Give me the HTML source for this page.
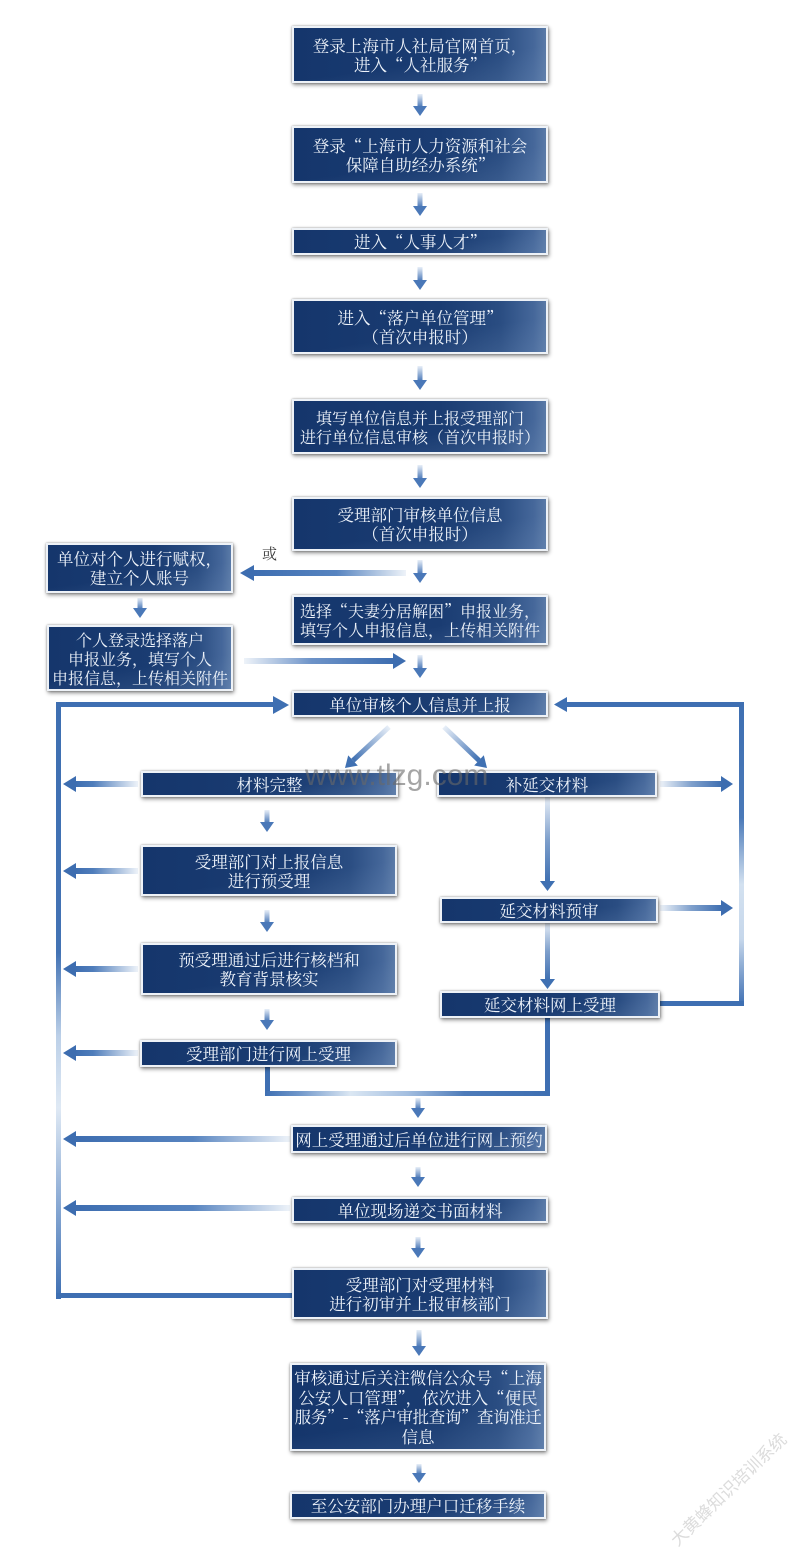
<!DOCTYPE html>
<html><head><meta charset="utf-8">
<style>
html,body{margin:0;padding:0;background:#fff;}
#root{position:relative;width:800px;height:1562px;overflow:hidden;background:#fff;}
svg.lines{position:absolute;left:0;top:0;}
.b{position:absolute;box-sizing:border-box;border:2px solid #eef2f7;
background:linear-gradient(172deg,rgba(255,255,255,0) 60%,rgba(120,150,190,0.22) 100%),linear-gradient(to right,#15366c 0%,#1a3c72 58%,#2a4d82 82%,#45679a 95%,#5a7aa7 100%);
box-shadow:1px 2px 4px rgba(0,0,0,0.45),0 0 2px rgba(0,0,0,0.35);
color:#eef3fa;font-family:"Noto Serif CJK SC","Liberation Serif",serif;font-size:16.5px;line-height:19px;
display:flex;align-items:center;justify-content:center;text-align:center;white-space:nowrap;}
.wm1{position:absolute;left:305px;top:759px;font-family:"Liberation Sans",sans-serif;font-size:30px;line-height:normal;color:rgba(105,105,105,0.6);white-space:nowrap;}
.wm2{position:absolute;left:645px;top:1476px;width:165px;text-align:center;font-family:"Noto Sans CJK SC",sans-serif;font-size:17px;color:#dcdcdc;transform:rotate(-44deg);white-space:nowrap;}
.or{position:absolute;left:262px;top:543px;font-family:"Noto Serif CJK SC",serif;font-size:15px;color:#333;}
</style></head>
<body><div id="root">
<svg class="lines" width="800" height="1562" viewBox="0 0 800 1562">
<defs>
<linearGradient id="gD" x1="0" y1="0" x2="0" y2="1"><stop offset="0" stop-color="#e8eff8"/><stop offset="1" stop-color="#4a78b8"/></linearGradient>
<linearGradient id="gDl" x1="0" y1="0" x2="0" y2="1"><stop offset="0" stop-color="#e8eff8"/><stop offset="0.5" stop-color="#7fa0cc"/><stop offset="1" stop-color="#3f70b2"/></linearGradient>
<linearGradient id="gLs" x1="0" y1="0" x2="1" y2="0"><stop offset="0" stop-color="#3d6db0"/><stop offset="0.3" stop-color="#4f7dbb"/><stop offset="1" stop-color="#eef3f9"/></linearGradient>
<linearGradient id="gLl" x1="0" y1="0" x2="1" y2="0"><stop offset="0" stop-color="#3d6db0"/><stop offset="0.55" stop-color="#5784c0"/><stop offset="1" stop-color="#eef3f9"/></linearGradient>
<linearGradient id="gR" x1="0" y1="0" x2="1" y2="0"><stop offset="0" stop-color="#eef3f9"/><stop offset="0.5" stop-color="#7fa0cc"/><stop offset="1" stop-color="#3d6db0"/></linearGradient>
<linearGradient id="gRl" x1="0" y1="0" x2="1" y2="0"><stop offset="0" stop-color="#eef3f9"/><stop offset="0.45" stop-color="#6d93c8"/><stop offset="1" stop-color="#3d6db0"/></linearGradient>
<linearGradient id="gLV" x1="0" y1="0" x2="0" y2="1"><stop offset="0" stop-color="#3e6fb2"/><stop offset="0.42" stop-color="#4373b4"/><stop offset="0.56" stop-color="#bcd0e8"/><stop offset="0.68" stop-color="#dfe9f4"/><stop offset="0.84" stop-color="#8aaad4"/><stop offset="1" stop-color="#3e6fb2"/></linearGradient>
<linearGradient id="gRV" x1="0" y1="0" x2="0" y2="1"><stop offset="0" stop-color="#3e6fb2"/><stop offset="0.38" stop-color="#4a79b8"/><stop offset="0.6" stop-color="#d3e1f0"/><stop offset="0.78" stop-color="#c6d7eb"/><stop offset="1" stop-color="#3e6fb2"/></linearGradient>
<linearGradient id="gBH" x1="0" y1="0" x2="1" y2="0"><stop offset="0" stop-color="#3e6fb2"/><stop offset="0.12" stop-color="#7097ca"/><stop offset="0.3" stop-color="#dbe7f3"/><stop offset="0.5" stop-color="#a3bee0"/><stop offset="0.7" stop-color="#4d7bb9"/><stop offset="1" stop-color="#3e6fb2"/></linearGradient>
<linearGradient id="gDg1" gradientUnits="userSpaceOnUse" x1="389" y1="727" x2="353" y2="760"><stop offset="0" stop-color="#e8eff8"/><stop offset="1" stop-color="#3f70b2"/></linearGradient>
<linearGradient id="gDg2" gradientUnits="userSpaceOnUse" x1="444" y1="727" x2="479" y2="760"><stop offset="0" stop-color="#e8eff8"/><stop offset="1" stop-color="#3f70b2"/></linearGradient>
</defs>

<g fill="#4a78b8">
<rect x="417.5" y="94" width="5" height="13" fill="url(#gD)"/><polygon points="413,106 427,106 420,116"/>
<rect x="417.5" y="193" width="5" height="14" fill="url(#gD)"/><polygon points="413,206 427,206 420,216"/>
<rect x="417.5" y="267" width="5" height="14" fill="url(#gD)"/><polygon points="413,280 427,280 420,290"/>
<rect x="417.5" y="366" width="5" height="15" fill="url(#gD)"/><polygon points="413,380 427,380 420,390"/>
<rect x="417.5" y="465" width="5" height="14" fill="url(#gD)"/><polygon points="413,478 427,478 420,488"/>
<rect x="417.5" y="560" width="5" height="14" fill="url(#gD)"/><polygon points="413,573 427,573 420,583"/>
<rect x="417.5" y="655" width="5" height="14" fill="url(#gD)"/><polygon points="413,668 427,668 420,678"/>
<rect x="137.5" y="598" width="5" height="11" fill="url(#gD)"/><polygon points="133,608 147,608 140,618"/>
<rect x="264.5" y="810" width="5" height="13" fill="url(#gD)"/><polygon points="260,822 274,822 267,832"/>
<rect x="264.5" y="910" width="5" height="13" fill="url(#gD)"/><polygon points="260,922 274,922 267,932"/>
<rect x="264.5" y="1009" width="5" height="12" fill="url(#gD)"/><polygon points="260,1020 274,1020 267,1030"/>
<rect x="415.5" y="1098" width="5" height="11" fill="url(#gD)"/><polygon points="411,1108 425,1108 418,1118"/>
<rect x="415.5" y="1167" width="5" height="11" fill="url(#gD)"/><polygon points="411,1177 425,1177 418,1187"/>
<rect x="415.5" y="1237" width="5" height="12" fill="url(#gD)"/><polygon points="411,1248 425,1248 418,1258"/>
<rect x="416.5" y="1330" width="5" height="17" fill="url(#gD)"/><polygon points="412,1346 426,1346 419,1356"/>
<rect x="416.5" y="1464" width="5" height="10" fill="url(#gD)"/><polygon points="412,1473 426,1473 419,1483"/>
</g>

<rect x="252" y="570" width="154" height="6" fill="url(#gLl)"/>
<polygon points="240,573 254,565 254,581" fill="#3d6db0"/>
<rect x="244" y="658" width="150" height="6" fill="url(#gRl)"/>
<polygon points="406,661 393,653 393,669" fill="#3d6db0"/>

<rect x="56" y="702" width="5" height="597" fill="url(#gLV)"/>
<rect x="56" y="702" width="219" height="5" fill="#3e6fb2"/>
<polygon points="273,696 273,714 289,705" fill="#3e6fb2"/>
<rect x="56" y="1293" width="237" height="5" fill="#3e6fb2"/>

<rect x="739" y="702" width="5" height="304" fill="url(#gRV)"/>
<rect x="566" y="702" width="178" height="5" fill="#3e6fb2"/>
<polygon points="554,704.5 567,697 567,712" fill="#3e6fb2"/>
<rect x="658" y="1001" width="86" height="5" fill="#3e6fb2"/>

<line x1="389" y1="727" x2="353" y2="760.5" stroke="url(#gDg1)" stroke-width="5"/>
<polygon points="345,768 357.8,765.6 348.2,755.4" fill="#3f70b2"/>
<line x1="444" y1="727" x2="479" y2="760.4" stroke="url(#gDg2)" stroke-width="5"/>
<polygon points="487,768 483.8,755.3 474.2,765.5" fill="#3f70b2"/>

<g fill="#3d6db0">
<rect x="74" y="781" width="64" height="6" fill="url(#gLs)"/><polygon points="63,784 76,776 76,792"/>
<rect x="74" y="868" width="64" height="6" fill="url(#gLs)"/><polygon points="63,871 76,863 76,879"/>
<rect x="74" y="966" width="64" height="6" fill="url(#gLs)"/><polygon points="63,969 76,961 76,977"/>
<rect x="74" y="1050" width="64" height="6" fill="url(#gLs)"/><polygon points="63,1053 76,1045 76,1061"/>
<rect x="74" y="1136" width="216" height="6" fill="url(#gLl)"/><polygon points="63,1139 76,1131 76,1147"/>
<rect x="74" y="1205" width="216" height="6" fill="url(#gLl)"/><polygon points="63,1208 76,1200 76,1216"/>
</g>

<g fill="#3d6db0">
<rect x="660" y="781" width="63" height="6" fill="url(#gR)"/><polygon points="733,784 721,776 721,792"/>
<rect x="660" y="905" width="63" height="6" fill="url(#gR)"/><polygon points="733,908 721,900 721,916"/>
</g>

<rect x="545" y="797" width="5" height="85" fill="url(#gDl)"/>
<polygon points="540,881 555,881 547.5,891" fill="#3f70b2"/>
<rect x="545" y="922" width="5" height="58" fill="url(#gDl)"/>
<polygon points="540,979 555,979 547.5,989" fill="#3f70b2"/>

<rect x="265" y="1065" width="5" height="31" fill="#3e6fb2"/>
<rect x="265" y="1091" width="285" height="5" fill="url(#gBH)"/>
<rect x="545" y="1016" width="5" height="80" fill="#3e6fb2"/>
</svg>

<div class="or">或</div>

<div class="b" style="left:292px;top:26px;width:256px;height:57px;">登录上海市人社局官网首页，<br>进入“人社服务”</div>
<div class="b" style="left:292px;top:126px;width:256px;height:57px;">登录“上海市人力资源和社会<br>保障自助经办系统”</div>
<div class="b" style="left:292px;top:228px;width:256px;height:27px;">进入“人事人才”</div>
<div class="b" style="left:292px;top:299px;width:256px;height:55px;">进入“落户单位管理”<br>（首次申报时）</div>
<div class="b" style="left:292px;top:399px;width:256px;height:55px;font-size:16px;">填写单位信息并上报受理部门<br>进行单位信息审核（首次申报时）</div>
<div class="b" style="left:292px;top:497px;width:256px;height:54px;">受理部门审核单位信息<br>（首次申报时）</div>
<div class="b" style="left:46px;top:543px;width:187px;height:50px;">单位对个人进行赋权，<br>建立个人账号</div>
<div class="b" style="left:292px;top:595px;width:256px;height:50px;font-size:16px;">选择“夫妻分居解困”申报业务，<br>填写个人申报信息，上传相关附件</div>
<div class="b" style="left:47px;top:625px;width:186px;height:66px;font-size:16px;">个人登录选择落户<br>申报业务，填写个人<br>申报信息，上传相关附件</div>
<div class="b" style="left:292px;top:691px;width:256px;height:26px;">单位审核个人信息并上报</div>
<div class="b" style="left:141px;top:771px;width:257px;height:26px;">材料完整</div>
<div class="b" style="left:437px;top:771px;width:220px;height:26px;">补延交材料</div>
<div class="b" style="left:141px;top:845px;width:256px;height:51px;">受理部门对上报信息<br>进行预受理</div>
<div class="b" style="left:440px;top:897px;width:218px;height:26px;">延交材料预审</div>
<div class="b" style="left:141px;top:943px;width:256px;height:52px;">预受理通过后进行核档和<br>教育背景核实</div>
<div class="b" style="left:440px;top:991px;width:220px;height:27px;">延交材料网上受理</div>
<div class="b" style="left:140px;top:1040px;width:257px;height:27px;">受理部门进行网上受理</div>
<div class="b" style="left:291px;top:1125px;width:256px;height:28px;">网上受理通过后单位进行网上预约</div>
<div class="b" style="left:292px;top:1197px;width:256px;height:26px;">单位现场递交书面材料</div>
<div class="b" style="left:292px;top:1268px;width:256px;height:51px;">受理部门对受理材料<br>进行初审并上报审核部门</div>
<div class="b" style="left:290px;top:1363px;width:256px;height:88px;font-size:16.5px;line-height:19.5px;"><div>审核通过后关注微信公众号“上海<br>公安人口管理”，依次进入“便民<br><span style="letter-spacing:-0.4px">服务”-“落户审批查询”查询准迁</span><br>信息</div></div>
<div class="b" style="left:290px;top:1492px;width:256px;height:27px;">至公安部门办理户口迁移手续</div>

<div class="wm1">www.tlzg.com</div>
<div class="wm2">大黄蜂知识培训系统</div>
</div></body></html>
